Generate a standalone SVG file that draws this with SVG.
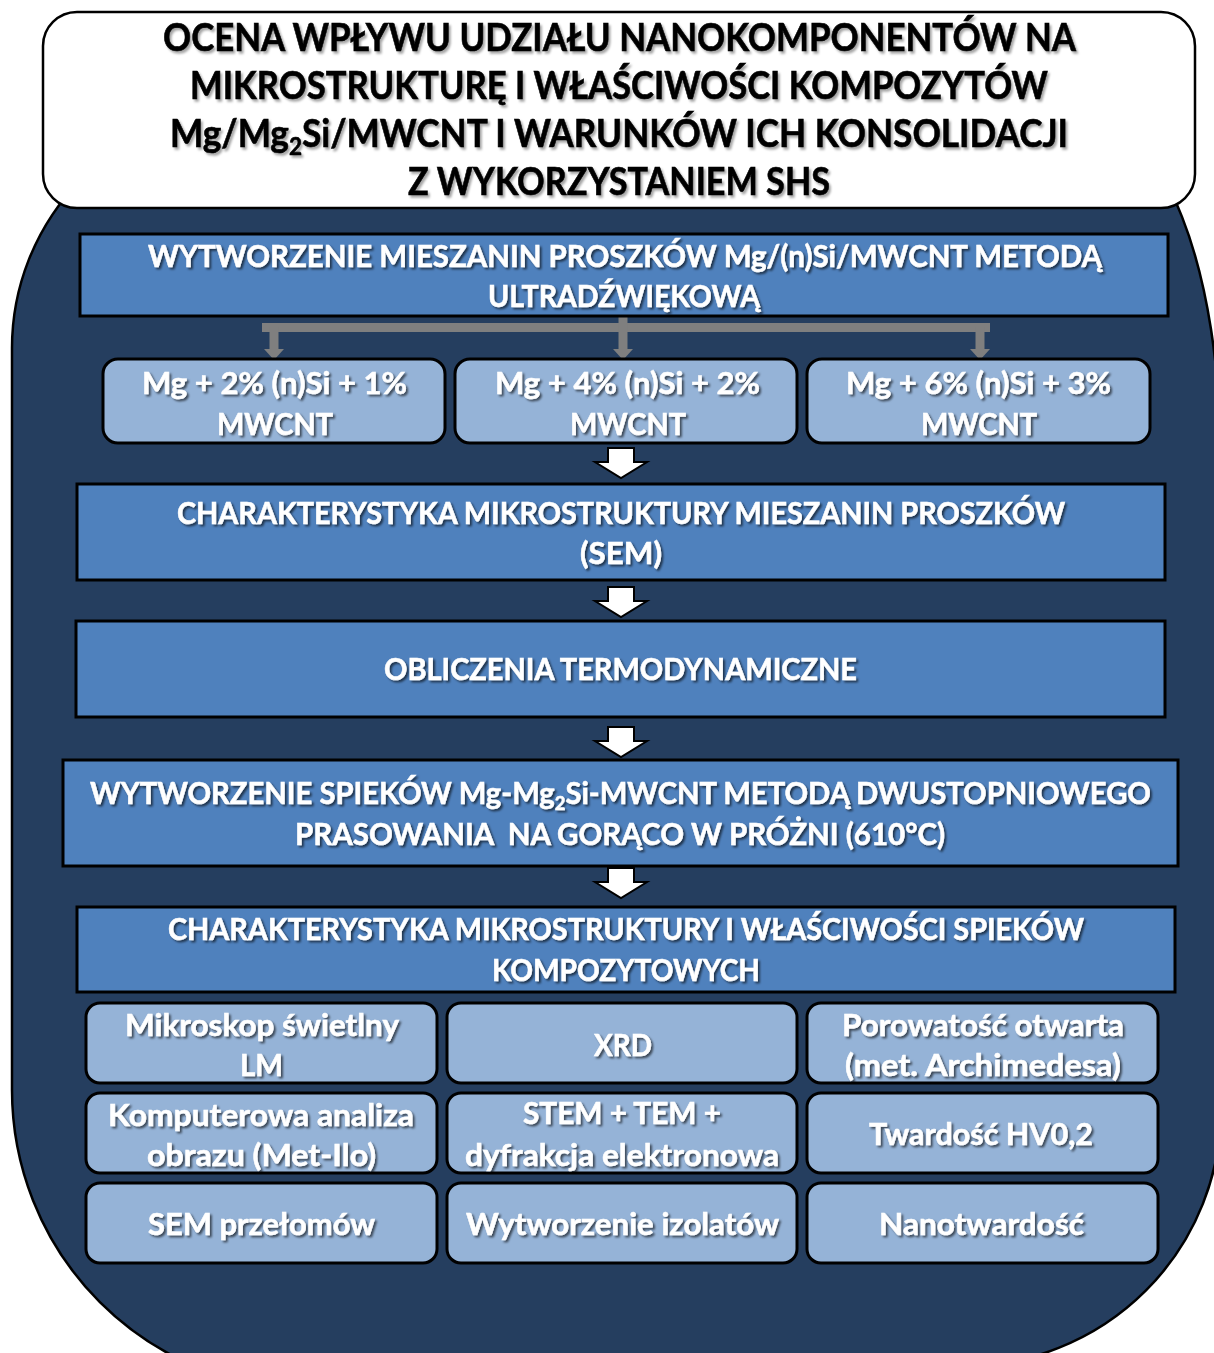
<svg xmlns="http://www.w3.org/2000/svg" width="1214" height="1353" viewBox="0 0 1214 1353">
<defs>
<style>
.t{font-family:Lato,"Open Sans","Liberation Sans",sans-serif;font-weight:700;text-anchor:middle}
.ttl{font-size:39px;fill:#000;stroke:#000;stroke-width:0.6;filter:url(#shT)}
.w{font-size:30px;fill:#fff;stroke:#fff;stroke-width:0.5;filter:url(#shW)}
.main{fill:#4F81BD;stroke:#000;stroke-width:3}
.sub{fill:#95B3D7;stroke:#000;stroke-width:3}
.conn{stroke:#7F7F7F;stroke-width:9;fill:none}
.head{fill:#7F7F7F}
.blk{fill:#fff;stroke:#000;stroke-width:2;stroke-linejoin:miter}
</style>
<filter id="shT" x="-5%" y="-30%" width="110%" height="160%">
<feDropShadow dx="2" dy="2.5" stdDeviation="1.2" flood-color="#000" flood-opacity="0.35"/>
</filter>
<filter id="shW" x="-5%" y="-30%" width="110%" height="160%">
<feDropShadow dx="2" dy="2" stdDeviation="1" flood-color="#000" flood-opacity="0.6"/>
</filter>
<path id="blockArrow" class="blk" d="M-13,0 H13 V14 H26 L0,30 L-26,14 H-13 Z"/>
</defs>

<g id="background">
<path d="M252,108 L1090,120 A130,330 0 0 1 1220,450 L1221,1109 A257,257 0 0 1 964,1366 L312,1390 A300,300 0 0 1 12,1090 L12,348 A240,240 0 0 1 252,108 Z" fill="#253E5F" stroke="#000" stroke-width="2.5"/>
</g>

<g id="title">
<rect x="43" y="12" width="1152" height="196" rx="34" fill="#fff" stroke="#000" stroke-width="2.5"/>
<text class="t ttl" x="619.5" y="51" textLength="913" lengthAdjust="spacingAndGlyphs">OCENA WPŁYWU UDZIAŁU NANOKOMPONENTÓW NA</text>
<text class="t ttl" x="619" y="99" textLength="858" lengthAdjust="spacingAndGlyphs">MIKROSTRUKTURĘ I WŁAŚCIWOŚCI KOMPOZYTÓW</text>
<text class="t ttl" x="619" y="147" textLength="898" lengthAdjust="spacingAndGlyphs">Mg/Mg<tspan font-size="25" dy="8">2</tspan><tspan dy="-8">Si/MWCNT I WARUNKÓW ICH KONSOLIDACJI</tspan></text>
<text class="t ttl" x="619" y="195" textLength="422" lengthAdjust="spacingAndGlyphs">Z WYKORZYSTANIEM SHS</text>
</g>

<g id="connectors">
<line class="conn" x1="266.5" y1="327.5" x2="985.5" y2="327.5" stroke-linecap="square"/>
<line class="conn" x1="623" y1="316" x2="623" y2="350"/>
<line class="conn" x1="274" y1="327" x2="274" y2="350"/>
<line class="conn" x1="980" y1="327" x2="980" y2="350"/>
<path class="head" d="M264,349 H284 L274,360 Z"/>
<path class="head" d="M613,349 H633 L623,360 Z"/>
<path class="head" d="M970,349 H990 L980,360 Z"/>
<use href="#blockArrow" x="621" y="448"/>
<use href="#blockArrow" x="621" y="587"/>
<use href="#blockArrow" x="621" y="727"/>
<use href="#blockArrow" x="621" y="868"/>
</g>

<g id="n-mix">
<rect class="main" x="80" y="234" width="1088" height="82"/>
<text class="t w" x="625" y="267" textLength="954" lengthAdjust="spacingAndGlyphs">WYTWORZENIE MIESZANIN PROSZKÓW Mg/(n)Si/MWCNT METODĄ</text>
<text class="t w" x="624" y="307" textLength="272" lengthAdjust="spacingAndGlyphs">ULTRADŹWIĘKOWĄ</text>
</g>

<g id="n-var1">
<rect class="sub" x="103" y="359" width="342" height="84" rx="15"/>
<text class="t w" x="274.5" y="394" textLength="265" lengthAdjust="spacingAndGlyphs">Mg + 2% (n)Si + 1%</text>
<text class="t w" x="275" y="435" textLength="116" lengthAdjust="spacingAndGlyphs">MWCNT</text>
</g>
<g id="n-var2">
<rect class="sub" x="455" y="359" width="342" height="84" rx="15"/>
<text class="t w" x="627.5" y="394" textLength="265" lengthAdjust="spacingAndGlyphs">Mg + 4% (n)Si + 2%</text>
<text class="t w" x="628" y="435" textLength="116" lengthAdjust="spacingAndGlyphs">MWCNT</text>
</g>
<g id="n-var3">
<rect class="sub" x="807" y="359" width="343" height="84" rx="15"/>
<text class="t w" x="978.5" y="394" textLength="265" lengthAdjust="spacingAndGlyphs">Mg + 6% (n)Si + 3%</text>
<text class="t w" x="979" y="435" textLength="116" lengthAdjust="spacingAndGlyphs">MWCNT</text>
</g>

<g id="n-sem">
<rect class="main" x="77" y="484" width="1088" height="96"/>
<text class="t w" x="621" y="524" textLength="888" lengthAdjust="spacingAndGlyphs">CHARAKTERYSTYKA MIKROSTRUKTURY MIESZANIN PROSZKÓW</text>
<text class="t w" x="621" y="564" textLength="82" lengthAdjust="spacingAndGlyphs">(SEM)</text>
</g>

<g id="n-thermo">
<rect class="main" x="76" y="621" width="1089" height="96"/>
<text class="t w" x="620.5" y="680" textLength="473" lengthAdjust="spacingAndGlyphs">OBLICZENIA TERMODYNAMICZNE</text>
</g>

<g id="n-sinter">
<rect class="main" x="63" y="760" width="1115" height="106"/>
<text class="t w" x="620.5" y="804" textLength="1061" lengthAdjust="spacingAndGlyphs">WYTWORZENIE SPIEKÓW Mg-Mg<tspan font-size="19" dy="6">2</tspan><tspan dy="-6">Si-MWCNT METODĄ DWUSTOPNIOWEGO</tspan></text>
<text class="t w" x="620" y="845" textLength="650" lengthAdjust="spacingAndGlyphs" xml:space="preserve">PRASOWANIA  NA GORĄCO W PRÓŻNI (610°C)</text>
</g>

<g id="n-char">
<rect class="main" x="77" y="907" width="1098" height="85"/>
<text class="t w" x="626" y="940" textLength="916" lengthAdjust="spacingAndGlyphs">CHARAKTERYSTYKA MIKROSTRUKTURY I WŁAŚCIWOŚCI SPIEKÓW</text>
<text class="t w" x="626" y="981" textLength="268" lengthAdjust="spacingAndGlyphs">KOMPOZYTOWYCH</text>
</g>

<g id="n-lm">
<rect class="sub" x="86" y="1003" width="351" height="80" rx="14"/>
<text class="t w" x="262" y="1036" textLength="274" lengthAdjust="spacingAndGlyphs">Mikroskop świetlny</text>
<text class="t w" x="261.5" y="1076" textLength="43" lengthAdjust="spacingAndGlyphs">LM</text>
</g>
<g id="n-xrd">
<rect class="sub" x="447" y="1003" width="350" height="80" rx="14"/>
<text class="t w" x="623" y="1056" textLength="58" lengthAdjust="spacingAndGlyphs">XRD</text>
</g>
<g id="n-por">
<rect class="sub" x="807" y="1003" width="351" height="80" rx="14"/>
<text class="t w" x="983" y="1036" textLength="282" lengthAdjust="spacingAndGlyphs">Porowatość otwarta</text>
<text class="t w" x="983" y="1076" textLength="276" lengthAdjust="spacingAndGlyphs">(met. Archimedesa)</text>
</g>
<g id="n-img">
<rect class="sub" x="86" y="1093" width="351" height="80" rx="14"/>
<text class="t w" x="261" y="1126" textLength="306" lengthAdjust="spacingAndGlyphs">Komputerowa analiza</text>
<text class="t w" x="261.5" y="1166" textLength="229" lengthAdjust="spacingAndGlyphs">obrazu (Met-Ilo)</text>
</g>
<g id="n-stem">
<rect class="sub" x="447" y="1093" width="350" height="80" rx="14"/>
<text class="t w" x="622" y="1124" textLength="198" lengthAdjust="spacingAndGlyphs">STEM + TEM +</text>
<text class="t w" x="622" y="1166" textLength="314" lengthAdjust="spacingAndGlyphs">dyfrakcja elektronowa</text>
</g>
<g id="n-hv">
<rect class="sub" x="807" y="1093" width="351" height="80" rx="14"/>
<text class="t w" x="981" y="1145" textLength="224" lengthAdjust="spacingAndGlyphs">Twardość HV0,2</text>
</g>
<g id="n-semf">
<rect class="sub" x="86" y="1183" width="351" height="80" rx="14"/>
<text class="t w" x="261.5" y="1235" textLength="227" lengthAdjust="spacingAndGlyphs">SEM przełomów</text>
</g>
<g id="n-iso">
<rect class="sub" x="447" y="1183" width="350" height="80" rx="14"/>
<text class="t w" x="622.5" y="1235" textLength="313" lengthAdjust="spacingAndGlyphs">Wytworzenie izolatów</text>
</g>
<g id="n-nano">
<rect class="sub" x="807" y="1183" width="351" height="80" rx="14"/>
<text class="t w" x="981.5" y="1235" textLength="205" lengthAdjust="spacingAndGlyphs">Nanotwardość</text>
</g>
</svg>
